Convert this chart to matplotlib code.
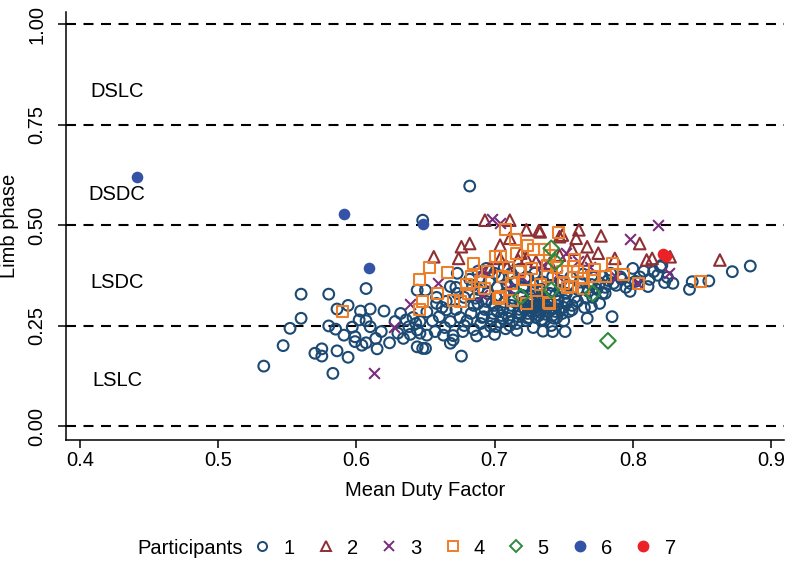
import matplotlib
matplotlib.use("Agg")
import matplotlib.pyplot as plt
from matplotlib.lines import Line2D

plt.rcParams['font.family'] = ['Liberation Sans', 'DejaVu Sans']

# ---------------- data ----------------
p1_x = [0.533, 0.547, 0.552, 0.560, 0.560, 0.580, 0.570, 0.575, 0.575, 0.583, 0.586, 0.594,
        0.580, 0.585, 0.591, 0.586, 0.594, 0.597, 0.599, 0.599, 0.603, 0.602, 0.607, 0.607,
        0.610, 0.610, 0.604, 0.607, 0.614, 0.615, 0.618, 0.620, 0.624, 0.628, 0.632, 0.630,
        0.634, 0.638, 0.636, 0.641, 0.644, 0.644, 0.646, 0.644, 0.650, 0.650, 0.646, 0.651,
        0.651, 0.676, 0.668, 0.670, 0.648, 0.663, 0.677, 0.687, 0.673, 0.658, 0.665, 0.668,
        0.673, 0.688, 0.692, 0.701, 0.885, 0.872, 0.855, 0.843, 0.841, 0.829, 0.823, 0.821,
        0.815, 0.820, 0.811, 0.805, 0.800, 0.798, 0.791, 0.786, 0.780, 0.776, 0.770, 0.767,
        0.785, 0.756, 0.751, 0.742, 0.682, 0.648,
        0.680, 0.683, 0.685, 0.686, 0.688, 0.690, 0.691, 0.693, 0.694, 0.695, 0.696, 0.697,
        0.698, 0.699, 0.700, 0.701, 0.702, 0.703, 0.704, 0.705, 0.706, 0.707, 0.708, 0.709,
        0.710, 0.711, 0.712, 0.713, 0.714, 0.715, 0.716, 0.717, 0.718, 0.719, 0.720, 0.721,
        0.722, 0.723, 0.724, 0.725, 0.726, 0.727, 0.728, 0.729, 0.730, 0.731, 0.732, 0.733,
        0.734, 0.735, 0.736, 0.737, 0.738, 0.739, 0.740, 0.741, 0.742, 0.743, 0.744, 0.745,
        0.746, 0.747, 0.748, 0.749, 0.750, 0.751, 0.752, 0.753, 0.755, 0.756, 0.758, 0.760,
        0.762, 0.764, 0.766, 0.768, 0.770, 0.772, 0.774, 0.776, 0.778, 0.780, 0.782, 0.784,
        0.788, 0.792, 0.795, 0.798, 0.802, 0.808, 0.812, 0.818, 0.825, 0.716, 0.728, 0.741,
        0.735, 0.708, 0.722, 0.727, 0.731, 0.736, 0.729, 0.732, 0.739, 0.745, 0.750, 0.754,
        0.760, 0.765, 0.771, 0.778, 0.682, 0.688, 0.694, 0.700, 0.707, 0.712, 0.718, 0.724,
        0.672, 0.675, 0.678, 0.668, 0.664, 0.660, 0.657, 0.670, 0.685, 0.693, 0.700, 0.658,
        0.665, 0.672, 0.678, 0.684, 0.690,
        0.719, 0.724, 0.728, 0.733, 0.737, 0.741, 0.746, 0.721, 0.726, 0.731, 0.735, 0.740,
        0.744, 0.713, 0.717, 0.725, 0.734, 0.742, 0.747, 0.752, 0.706, 0.711, 0.702, 0.698,
        0.643, 0.639, 0.655, 0.662]
p1_y = [0.149, 0.200, 0.243, 0.268, 0.328, 0.328, 0.181, 0.192, 0.174, 0.131, 0.187, 0.171,
        0.249, 0.241, 0.226, 0.291, 0.300, 0.246, 0.222, 0.210, 0.286, 0.264, 0.262, 0.342,
        0.291, 0.247, 0.201, 0.207, 0.218, 0.192, 0.235, 0.286, 0.207, 0.260, 0.280, 0.231,
        0.218, 0.247, 0.264, 0.270, 0.338, 0.239, 0.260, 0.197, 0.193, 0.338, 0.231, 0.284,
        0.226, 0.174, 0.206, 0.214, 0.193, 0.226, 0.235, 0.224, 0.330, 0.305, 0.289, 0.347,
        0.380, 0.305, 0.272, 0.247, 0.398, 0.384, 0.361, 0.359, 0.340, 0.355, 0.357, 0.400,
        0.384, 0.396, 0.347, 0.371, 0.392, 0.355, 0.371, 0.355, 0.330, 0.305, 0.297, 0.268,
        0.272, 0.289, 0.235, 0.235, 0.597, 0.512,
        0.262, 0.280, 0.300, 0.318, 0.340, 0.255, 0.270, 0.290, 0.310, 0.330, 0.360, 0.248,
        0.265, 0.280, 0.300, 0.320, 0.345, 0.372, 0.258, 0.275, 0.292, 0.308, 0.330, 0.352,
        0.268, 0.285, 0.300, 0.318, 0.338, 0.360, 0.255, 0.272, 0.290, 0.305, 0.325, 0.345,
        0.368, 0.262, 0.280, 0.298, 0.315, 0.332, 0.350, 0.380, 0.270, 0.288, 0.302, 0.320,
        0.340, 0.358, 0.262, 0.278, 0.295, 0.312, 0.330, 0.350, 0.372, 0.268, 0.285, 0.300,
        0.318, 0.338, 0.360, 0.280, 0.295, 0.312, 0.330, 0.350, 0.370, 0.300, 0.320, 0.340,
        0.358, 0.378, 0.318, 0.335, 0.352, 0.370, 0.340, 0.356, 0.372, 0.345, 0.362, 0.380,
        0.350, 0.365, 0.345, 0.335, 0.360, 0.385, 0.365, 0.375, 0.370, 0.238, 0.245, 0.250,
        0.236, 0.242, 0.290, 0.285, 0.310, 0.320, 0.295, 0.275, 0.285, 0.270, 0.262, 0.285,
        0.310, 0.295, 0.320, 0.330, 0.365, 0.385, 0.392, 0.380, 0.395, 0.380, 0.390, 0.370,
        0.290, 0.270, 0.250, 0.260, 0.245, 0.272, 0.235, 0.225, 0.240, 0.235, 0.228, 0.320,
        0.310, 0.345, 0.320, 0.350, 0.370,
        0.278, 0.268, 0.292, 0.283, 0.300, 0.290, 0.310, 0.308, 0.322, 0.298, 0.312, 0.305,
        0.325, 0.262, 0.282, 0.270, 0.265, 0.275, 0.290, 0.305, 0.268, 0.250, 0.285, 0.305,
        0.255, 0.228, 0.262, 0.295]

p2_x = [0.693, 0.711, 0.723, 0.732, 0.747, 0.761, 0.759, 0.777, 0.805, 0.676, 0.682, 0.656,
        0.674, 0.704, 0.711, 0.767, 0.775, 0.787, 0.810, 0.814, 0.827, 0.863, 0.704, 0.717,
        0.723, 0.730, 0.697, 0.709, 0.733, 0.749, 0.767, 0.747, 0.719, 0.740, 0.756]
p2_y = [0.512, 0.512, 0.488, 0.486, 0.471, 0.488, 0.467, 0.473, 0.454, 0.446, 0.454, 0.421,
        0.417, 0.450, 0.467, 0.446, 0.430, 0.417, 0.413, 0.417, 0.421, 0.413, 0.417, 0.413,
        0.417, 0.409, 0.396, 0.396, 0.483, 0.475, 0.413, 0.425, 0.430, 0.405, 0.440]

p3_x = [0.613, 0.627, 0.639, 0.659, 0.698, 0.704, 0.691, 0.691, 0.710, 0.752, 0.769, 0.788,
        0.803, 0.798, 0.818, 0.826, 0.735, 0.720, 0.745, 0.760]
p3_y = [0.132, 0.247, 0.304, 0.357, 0.514, 0.505, 0.388, 0.326, 0.343, 0.430, 0.396, 0.371,
        0.356, 0.465, 0.500, 0.381, 0.400, 0.370, 0.375, 0.410]

p4_x = [0.590, 0.653, 0.646, 0.666, 0.659, 0.646, 0.648, 0.680, 0.681, 0.670, 0.675, 0.685,
        0.693, 0.701, 0.703, 0.708, 0.746, 0.715, 0.724, 0.736, 0.704, 0.683, 0.695, 0.710,
        0.718, 0.727, 0.738, 0.745, 0.760, 0.780, 0.804, 0.704, 0.713, 0.723, 0.739, 0.755,
        0.764, 0.730, 0.738, 0.849, 0.785, 0.793, 0.753, 0.740, 0.757, 0.771, 0.758, 0.740,
        0.749, 0.764, 0.690, 0.712, 0.722, 0.733, 0.750, 0.772, 0.716, 0.728, 0.706]
p4_y = [0.286, 0.395, 0.365, 0.381, 0.330, 0.289, 0.309, 0.351, 0.330, 0.313, 0.309, 0.405,
        0.343, 0.421, 0.318, 0.489, 0.481, 0.463, 0.448, 0.438, 0.421, 0.371, 0.385, 0.395,
        0.385, 0.392, 0.400, 0.395, 0.385, 0.372, 0.355, 0.322, 0.313, 0.305, 0.307, 0.347,
        0.343, 0.338, 0.371, 0.359, 0.405, 0.376, 0.345, 0.305, 0.396, 0.371, 0.413, 0.425,
        0.384, 0.368, 0.360, 0.355, 0.365, 0.352, 0.355, 0.390, 0.430, 0.440, 0.372]

p5_x = [0.741, 0.744, 0.719, 0.741, 0.771, 0.782]
p5_y = [0.442, 0.408, 0.322, 0.338, 0.330, 0.212]

p6_x = [0.441, 0.591, 0.648, 0.609]
p6_y = [0.620, 0.528, 0.503, 0.394]

p7_x = [0.822, 0.824]
p7_y = [0.428, 0.424]

region_labels = ["DSLC", "DSDC", "LSDC", "LSLC"]
region_y = [0.833, 0.577, 0.358, 0.112]
boundaries = [0.0, 0.25, 0.5, 0.75, 1.0]
x_ticks = [0.4, 0.5, 0.6, 0.7, 0.8, 0.9]
y_ticks = [0.0, 0.25, 0.5, 0.75, 1.0]
legend_labels = ["1", "2", "3", "4", "5", "6", "7"]

# ---------------- styling ----------------
c1, c2, c3, c4, c5, c6, c7 = "#1c4a73", "#8e2f33", "#7a2d7c", "#ec7f2c", "#2f8a3e", "#3452a6", "#ea2228"
FS = 14.5

fig = plt.figure(figsize=(7.9, 5.62), dpi=100)
ax = fig.add_axes([66/790, 1-440/562, (784-66)/790, (440-12)/562])
ax.set_xlim(0.3899, 0.9094)
ax.set_ylim(-0.0348, 1.030)

for b in boundaries:
    ax.axhline(b, color="black", lw=1.5, dashes=(4.8, 3.6), zorder=1)

ms = 60
lw = 1.5
ax.scatter(p1_x, p1_y, s=ms, facecolors="none", edgecolors=c1, linewidths=lw, marker="o", zorder=2)
ax.scatter(p2_x, p2_y, s=ms*1.15, facecolors="none", edgecolors=c2, linewidths=lw, marker="^", zorder=3)
ax.scatter(p3_x, p3_y, s=ms, color=c3, linewidths=lw, marker="x", zorder=3)
ax.scatter(p4_x, p4_y, s=ms*1.05, facecolors="none", edgecolors=c4, linewidths=lw, marker="s", zorder=4)
ax.scatter(p5_x, p5_y, s=ms*1.05, facecolors="none", edgecolors=c5, linewidths=lw, marker="D", zorder=5)
ax.scatter(p6_x, p6_y, s=70, color=c6, marker="o", linewidths=0, zorder=5)
ax.scatter(p7_x, p7_y, s=70, color=c7, marker="o", linewidths=0, zorder=5)

for lab, yy in zip(region_labels, region_y):
    ax.text(0.4268, yy, lab, ha="center", va="center", fontsize=FS)

for s in ["top", "right"]:
    ax.spines[s].set_visible(False)
for s in ["left", "bottom"]:
    ax.spines[s].set_linewidth(1.1)

ax.set_xticks(x_ticks)
ax.set_xticklabels(["0.4", "0.5", "0.6", "0.7", "0.8", "0.9"])
ax.set_yticks(y_ticks)
ax.set_yticklabels(["0.00", "0.25", "0.50", "0.75", "1.00"], rotation=90, va="center")
ax.tick_params(axis="x", length=6, width=1.1, labelsize=FS, pad=2)
ax.tick_params(axis="y", length=6, width=1.1, labelsize=FS, pad=8)
ax.set_xlabel("Mean Duty Factor", fontsize=FS, labelpad=8)
ax.set_ylabel("Limb phase", fontsize=FS, labelpad=6)

handles = [
    Line2D([], [], ls="none", marker="o", mfc="none", mec=c1, mew=1.4, ms=6.5),
    Line2D([], [], ls="none", marker="^", mfc="none", mec=c2, mew=1.4, ms=7.5),
    Line2D([], [], ls="none", marker="x", color=c3, mew=1.4, ms=6.5),
    Line2D([], [], ls="none", marker="s", mfc="none", mec=c4, mew=1.4, ms=6.5),
    Line2D([], [], ls="none", marker="D", mfc="none", mec=c5, mew=1.4, ms=6.5),
    Line2D([], [], ls="none", marker="o", color=c6, ms=7.5),
    Line2D([], [], ls="none", marker="o", color=c7, ms=7.5),
]
fig.text(137/790, 1-548/562, "Participants", fontsize=FS, ha="left", va="center")
fig.legend(handles, legend_labels, ncol=7, loc="center left",
           bbox_to_anchor=(244/790, 1-548/562), frameon=False, fontsize=FS,
           handlelength=1.0, handletextpad=0.55, columnspacing=1.05, borderaxespad=0)

fig.savefig("out.png", dpi=100)
